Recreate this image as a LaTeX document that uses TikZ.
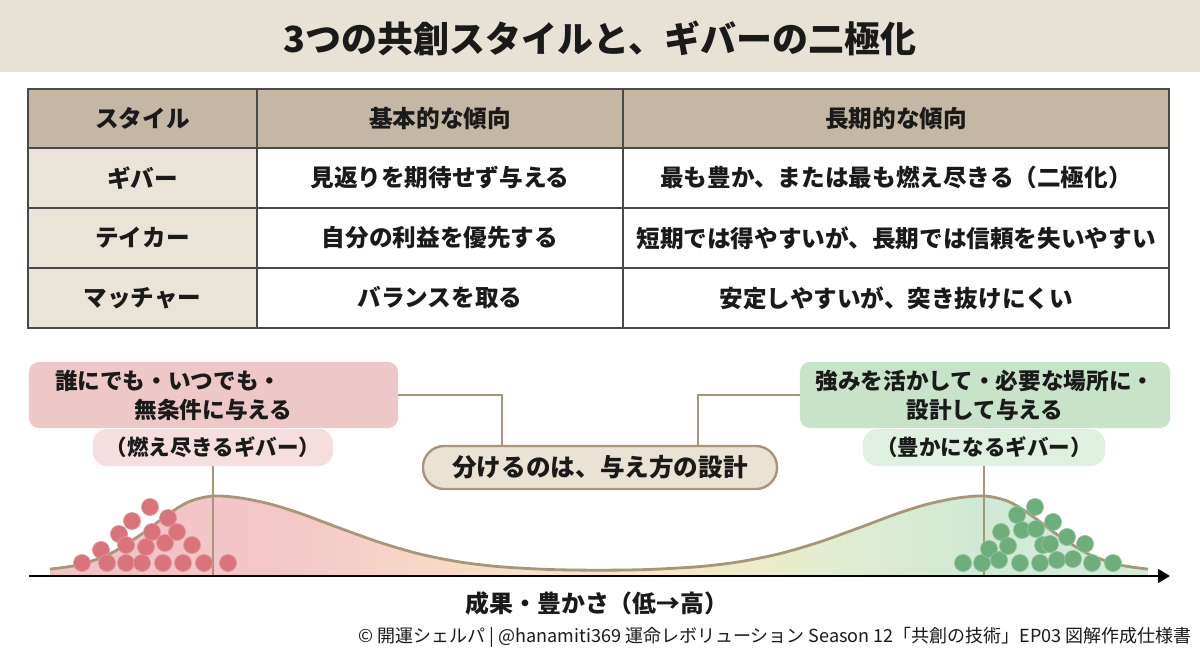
\documentclass[tikz,border=0pt]{standalone}
\usepackage{fontspec}
\setmainfont{Noto Sans CJK JP}
\usetikzlibrary{arrows.meta}
\definecolor{titlebg}{HTML}{E8E1D5}
\definecolor{hdr}{HTML}{C4B7A3}
\definecolor{firstcol}{HTML}{EAE3D7}
\definecolor{gridc}{HTML}{4A4A4A}
\definecolor{ink}{HTML}{1A1A1A}
\definecolor{pinkbox}{HTML}{EEC7C8}
\definecolor{pinkpill}{HTML}{F6DEDE}
\definecolor{greenbox}{HTML}{C7E4CA}
\definecolor{greenpill}{HTML}{DFF0E0}
\definecolor{tan}{HTML}{A8967B}
\definecolor{keyfill}{HTML}{EAE2D5}
\definecolor{reddot}{HTML}{D8747A}
\definecolor{greendot}{HTML}{6DAE7A}
\definecolor{fA}{HTML}{F2C2C4}
\definecolor{fB}{HTML}{F3C6C8}
\definecolor{fC}{HTML}{F8DCC6}
\definecolor{fD}{HTML}{FBE8C2}
\definecolor{fE}{HTML}{E4EDCF}
\definecolor{fF}{HTML}{D0E9D4}
\definecolor{fG}{HTML}{D5ECDA}
\pgfdeclarehorizontalshading{bimodal}{100bp}{color(0bp)=(fA); color(25bp)=(fA); color(35bp)=(fB); color(44bp)=(fC); color(52bp)=(fD); color(60bp)=(fE); color(67bp)=(fF); color(75bp)=(fG); color(100bp)=(fG)}
\tikzset{
 ttl/.style={font=\fontsize{25.6}{30}\selectfont\bfseries, text=ink, inner sep=0pt},
 tcell/.style={font=\fontsize{16.8}{20}\selectfont\bfseries, text=ink, inner sep=0pt},
 callout/.style={rounded corners=0.25cm, inner sep=0pt, align=center, font=\fontsize{16.1}{20.6}\selectfont\bfseries, text=ink},
 tag/.style={rounded corners=0.35cm, inner sep=0pt, font=\fontsize{15.3}{18}\selectfont\bfseries, text=ink, minimum height=0.925cm},
 keypill/.style={rounded corners=0.53cm, draw=tan, line width=1.7pt, fill=keyfill, inner sep=0pt, font=\fontsize{17.5}{20}\selectfont\bfseries, text=ink, minimum width=8.85cm, minimum height=1.075cm},
 conn/.style={draw=tan, line width=1.6pt},
 curveline/.style={draw=tan, line width=2pt},
 axisline/.style={draw=black, line width=1.8pt, -{Triangle[length=0.3cm,width=0.34cm]}},
 axlbl/.style={font=\fontsize{17}{20}\selectfont\bfseries, text=ink, inner sep=0pt},
 foot/.style={font=\fontsize{12.8}{15}\selectfont, text=ink, inner sep=0pt, anchor=east},
 grid/.style={draw=gridc, line width=1.3pt},
 rdot/.style={fill=reddot, draw=reddot!75!white, line width=0.5pt},
 gdot/.style={fill=greendot, draw=greendot!75!white, line width=0.5pt},
}
\begin{document}
\begin{tikzpicture}[x=0.025cm,y=-0.025cm]
\useasboundingbox (0,0) rectangle (1200,655);
\fill[white] (0,0) rectangle (1200,655);
% title band
\fill[titlebg] (0,0) rectangle (1200,72);
\node[ttl] (title) at (600,38) {3つの共創スタイルと、ギバーの二極化};
% table
\fill[hdr] (28,89) rectangle (1169,148);
\fill[firstcol] (28,148) rectangle (257,328);
\draw[grid] (28,89) rectangle (1169,328);
\draw[grid] (28,148) -- (1169,148);
\draw[grid] (28,208) -- (1169,208);
\draw[grid] (28,268) -- (1169,268);
\draw[grid] (257,89) -- (257,328);
\draw[grid] (623,89) -- (623,328);
\node[tcell] (h1) at (142.5,118.5) {スタイル};
\node[tcell] (h2) at (440,118.5) {基本的な傾向};
\node[tcell] (h3) at (896,118.5) {長期的な傾向};
\node[tcell] (a1) at (142.5,178) {ギバー};
\node[tcell] (a2) at (440,178) {見返りを期待せず与える};
\node[tcell] (a3) at (896,178) {最も豊か、または最も燃え尽きる（二極化）};
\node[tcell] (b1) at (142.5,238) {テイカー};
\node[tcell] (b2) at (440,238) {自分の利益を優先する};
\node[tcell] (b3) at (896,238) {短期では得やすいが、長期では信頼を失いやすい};
\node[tcell] (c1) at (142.5,298) {マッチャー};
\node[tcell] (c2) at (440,298) {バランスを取る};
\node[tcell] (c3) at (896,298) {安定しやすいが、突き抜けにくい};
% distribution
\shade[shading=bimodal] plot[smooth] coordinates {(50,569.1) (80,564.6) (110,553.8) (140,535.2) (170,513) (190,501.3) (213,496) (240,497.9) (270,504) (300,513.3) (340,528.2) (380,542.5) (420,554.1) (460,562) (500,566.7) (550,569.5) (599,570.2) (648,569.5) (698,566.7) (738,562) (778,554.1) (818,542.5) (858,528.2) (898,513.3) (928,504) (958,497.9) (985,496) (1008,501.3) (1028,513) (1058,535.2) (1088,553.8) (1118,564.6) (1148,569.1)} -- (1148,576) -- (50,576) -- cycle;
\draw[curveline] plot[smooth] coordinates {(50,569.1) (80,564.6) (110,553.8) (140,535.2) (170,513) (190,501.3) (213,496) (240,497.9) (270,504) (300,513.3) (340,528.2) (380,542.5) (420,554.1) (460,562) (500,566.7) (550,569.5) (599,570.2) (648,569.5) (698,566.7) (738,562) (778,554.1) (818,542.5) (858,528.2) (898,513.3) (928,504) (958,497.9) (985,496) (1008,501.3) (1028,513) (1058,535.2) (1088,553.8) (1118,564.6) (1148,569.1)};
% callouts
\node[callout, fill=pinkbox, minimum width=9.225cm, minimum height=1.65cm] (lbox) at (213.5,395) {誰にでも・いつでも・\hspace*{4em}\\無条件に与える};
\node[callout, fill=greenbox, minimum width=9.25cm, minimum height=1.65cm] (rbox) at (985,395) {強みを活かして・必要な場所に・\\設計して与える};
\node[tag, fill=pinkpill, minimum width=6cm] (lpill) at (213,447.5) {（燃え尽きるギバー）};
\node[tag, fill=greenpill, minimum width=6.05cm] (rpill) at (984,447.5) {（豊かになるギバー）};
\coordinate (axA) at (213,576);
\coordinate (axB) at (984,576);
\draw[conn] (lpill.south) -- (axA);
\draw[conn] (rpill.south) -- (axB);
% dots
\foreach \p in {(82,563),(101,550),(107,563),(119,534),(126,545),(126,563),(132,521),(142,563),(146,547),(150,507),(152,532),(163,563),(165,543),(168,518),(177,532),(183,563),(192,545),(204,563),(228,563)}
  \filldraw[rdot] \p circle[radius=0.2125cm];
\foreach \p in {(963,563),(982,563),(989,549),(999,560),(1001,532),(1008,546),(1017,515),(1020,563),(1022,530),(1035,507),(1036,529),(1040,563),(1043,545),(1050,544),(1053,522),(1057,560),(1067,537),(1073,559),(1085,544),(1092,563),(1113,563)}
  \filldraw[gdot] \p circle[radius=0.2125cm];
% axis
\coordinate (ax0) at (29,576);
\coordinate (ax1) at (1170,576);
\draw[axisline] (ax0) -- (ax1);
\node[axlbl] (axl) at (597,603) {成果・豊かさ（低→高）};
% key message
\coordinate (cpL) at (502,446);
\coordinate (cpR) at (698,446);
\draw[conn] (lbox.east) -| (cpL);
\draw[conn] (rbox.west) -| (cpR);
\node[keypill] (key) at (600,467.5) {分けるのは、与え方の設計};
% footer
\node[foot] (foot) at (1192,637) {© 開運シェルパ | @hanamiti369 運命レボリューション Season 12「共創の技術」EP03 図解作成仕様書};
\end{tikzpicture}
\end{document}
